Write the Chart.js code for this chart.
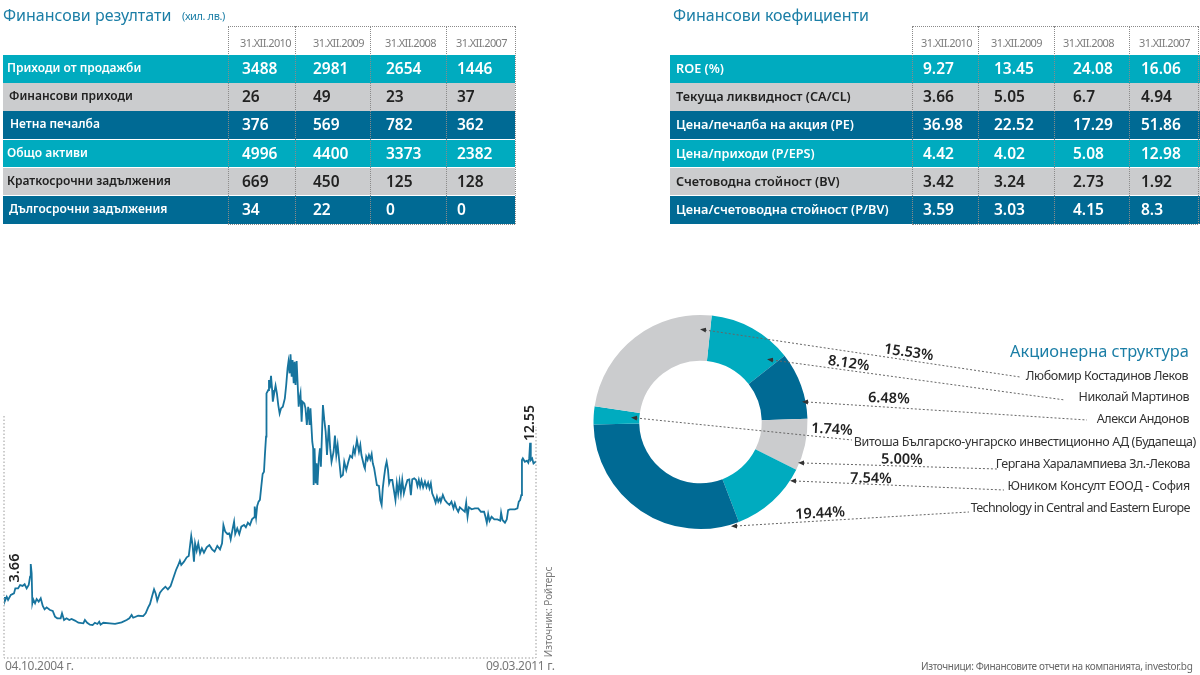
<!DOCTYPE html>
<html lang="bg">
<head>
<meta charset="utf-8">
<title>Финансови резултати</title>
<script src="https://cdn.jsdelivr.net/npm/chart.js@4"></script>
<style>
html, body { margin: 0; padding: 0; background: #fff; }
#page { position: relative; width: 1200px; height: 675px; overflow: hidden; font-family: "Noto Sans", sans-serif; color: #222; }
#page canvas { position: absolute; }
.t { position: absolute; white-space: nowrap; line-height: 1; }
.title { font-size: 16px; color: #1b7ea6; }
.row { position: absolute; }
.vline { position: absolute; border-left: 1px dotted #8a8a8a; }
.hline { position: absolute; border-top: 1px dotted #8a8a8a; }
svg { position: absolute; left: 0; top: 0; }
</style>
</head>
<body>
<div id="page">
  <canvas id="priceChart" style="left:0;top:330px" width="560" height="335"></canvas>
  <canvas id="holdersChart" style="left:590px;top:312px" width="221" height="220"></canvas>
  <svg id="leaders" width="1200" height="675"></svg>
</div>
<script>
// table data
const periods = ['31.XII.2010', '31.XII.2009', '31.XII.2008', '31.XII.2007'];
const resultLabels = ['Приходи от продажби', 'Финансови приходи', 'Нетна печалба', 'Общо активи', 'Краткосрочни задължения', 'Дългосрочни задължения'];
const resultValues = [
    ['3488', '2981', '2654', '1446'],
    ['26', '49', '23', '37'],
    ['376', '569', '782', '362'],
    ['4996', '4400', '3373', '2382'],
    ['669', '450', '125', '128'],
    ['34', '22', '0', '0']
];
const ratioLabels = ['ROE (%)', 'Текуща ликвидност (CA/CL)', 'Цена/печалба на акция (PE)', 'Цена/приходи (P/EPS)', 'Счетоводна стойност (BV)', 'Цена/счетоводна стойност (P/BV)'];
const ratioValues = [
    ['9.27', '13.45', '24.08', '16.06'],
    ['3.66', '5.05', '6.7', '4.94'],
    ['36.98', '22.52', '17.29', '51.86'],
    ['4.42', '4.02', '5.08', '12.98'],
    ['3.42', '3.24', '2.73', '1.92'],
    ['3.59', '3.03', '4.15', '8.3']
];

// price line, days counted from 04.10.2004
const priceDates = ['04.10.2004 г.', '09.03.2011 г.'];
const days = [0,3,12,18,30,44,50,62,71,82,91,100,109,115,118,122,125,129,137,144,153,162,171,179,188,203,215,225,235,250,256,265,276,288,298,313,328,350,357,367,379,391,401,412,420,426,438,467,490,519,541,553,563,570,592,614,625,636,644,
    653,662,669,676,688,700,712,723,735,744,750,759,769,776,782,794,806,815,821,826,832,838,843,850,857,865,873,882,894,906,918,929,941,953,962,968,976,985,994,1000,1009,1015,1020,1029,1038,1047,1059,1067,1076,1085,1094,1103,1106,1112,1117,1123,1129,1135,1141,1147,1151,1156,
    1158,1166,1169,1173,1178,1183,1186,1192,1198,1204,1210,1216,1222,1230,1239,1245,1251,1255,1260,1264,1269,1273,1278,1282,1286,1291,1295,1300,1304,1308,1313,1317,1325,1330,1336,1342,1348,1352,1360,1364,1366,1370,1375,1379,1383,1389,1394,1398,1407,1413,1419,1425,1433,1439,1445,1454,1460,1466,1472,1480,1486,1495,1501,1510,1519,1527,1536,1542,1548,1557,1566,1572,1577,1589,
    1592,1598,1604,1610,1616,1622,1627,1633,1639,1645,1654,1660,1666,1671,1677,1683,1688,1694,1699,1704,1713,1720,1727,1733,1739,1745,1751,1757,1764,1771,1780,1788,1795,1801,1810,1818,1824,1830,1836,1842,1849,1857,1864,1871,1877,1883,1889,1898,1904,1910,1916,1923,1927,1936,1945,1954,1965,1974,1983,1989,
    1996,2004,2011,2021,2033,2039,2045,2051,2063,2077,2092,2104,2118,2124,2130,2136,2142,2151,2163,2177,2189,2193,2199,2210,2218,2224,2232,2254,2265,2271,2277,2282,2285,2289,2298,2307,2313,2317,2321,2324,2330,2336,2345,2347];
const prices = [3.66,3.36,3.68,3.47,3.80,3.90,4.23,4.23,4.45,4.39,4.50,4.23,4.45,5.00,5.83,5.22,3.25,3.51,3.25,3.53,3.36,3.58,3.07,2.85,2.98,2.81,2.74,2.37,2.26,2.26,2.59,2.15,2.26,2.15,2.22,2.11,1.97,1.93,2.15,1.97,1.84,1.82,1.97,1.89,2.04,1.84,1.97,1.93,1.89,1.99,2.15,2.26,2.48,2.30,2.43,2.41,2.59,2.98,3.20,
    3.69,4.17,3.90,3.42,3.95,4.17,4.34,4.17,4.39,4.78,5.04,5.44,5.77,6.05,5.77,5.99,6.27,6.36,7.08,7.68,7.08,5.99,7.19,6.71,7.19,6.54,6.86,6.58,6.93,7.08,6.80,6.65,7.02,6.80,7.19,8.40,7.96,7.81,7.85,7.46,8.18,8.62,7.81,8.18,7.81,8.29,8.40,8.25,8.55,8.40,8.77,8.90,9.61,8.90,9.65,9.94,10.05,10.92,11.76,11.91,13.01,14.21,
    17.06,17.28,17.94,17.39,18.22,17.28,16.51,17.06,17.57,17.06,16.29,15.74,16.07,16.18,16.73,17.61,18.70,19.14,18.38,19.63,18.16,19.25,17.72,19.14,17.61,19.19,17.83,16.18,16.73,17.06,15.20,16.51,16.40,16.07,14.98,16.18,14.98,16.07,13.88,13.44,11.03,13.44,11.14,12.46,11.03,12.78,13.44,12.24,16.29,15.31,14.54,13.00,14.98,13.44,12.56,13.22,14.28,13.00,13.66,12.46,11.58,11.69,12.56,12.02,12.56,12.96,12.83,13.44,13.11,13.99,13.22,13.66,13.00,12.24,
    12.13,12.90,12.68,13.00,12.72,13.07,12.46,12.13,11.58,11.03,10.97,10.04,9.72,10.81,11.58,12.24,12.57,12.02,11.14,11.36,11.36,10.70,10.04,11.14,10.48,11.25,10.48,11.36,10.48,10.92,11.36,11.40,10.37,11.40,11.47,11.36,10.97,11.36,10.92,11.32,10.88,11.25,10.88,11.18,10.81,11.14,10.48,10.15,9.87,10.26,9.93,10.15,9.93,10.37,10.04,9.87,9.72,9.93,9.50,9.83,
    9.49,9.27,9.56,9.43,9.27,9.87,8.94,9.56,9.43,9.49,9.49,9.27,9.27,8.94,8.55,9.12,8.68,8.94,8.77,8.77,8.68,9.21,8.73,8.55,8.77,9.38,9.43,9.43,9.49,9.93,10.04,10.37,12.67,12.78,12.56,12.63,12.50,12.78,13.81,12.67,12.78,12.45,12.56,12.55];

// shareholders, in ring order clockwise
const holderNames = ['Николай Мартинов', 'Алекси Андонов', 'Гергана Харалампиева Зл.-Лекова', 'Юником Консулт ЕООД - София', 'Technology in Central  and Eastern Europe', 'Витоша Българско-унгарско инвестиционно АД (Будапеща)', 'Любомир Костадинов Леков'];
const holderShares = [8.12, 6.48, 5.00, 7.54, 19.44, 1.74, 15.53];

const TEAL = '#00abbf', GREY = '#cbccce', NAVY = '#006a94', INK = '#1b7ea6';
const rowFills = [TEAL, GREY, NAVY, TEAL, GREY, NAVY];
const holderFills = [TEAL, NAVY, GREY, TEAL, NAVY, TEAL, GREY];

const page = document.getElementById('page');

function addText(text, x, y, style) {
    const el = document.createElement('div');
    el.className = 't';
    el.textContent = text;
    el.style.left = x + 'px';
    el.style.top = y + 'px';
    Object.assign(el.style, style || {});
    page.appendChild(el);
    return el;
}
function addTitle(text, x, y) {
    const el = addText(text, x, y);
    el.classList.add('title');
    return el;
}

const rowTops = [55, 83, 111, 139.5, 167.5, 196];
const ROW_H = 27.5;

function buildTable(cfg) {
    rowTops.forEach((top, i) => {
        const row = document.createElement('div');
        row.className = 'row';
        row.style.cssText = `left:${cfg.left}px;top:${top}px;width:${cfg.right - cfg.left}px;height:${ROW_H}px;background:${rowFills[i]}`;
        page.appendChild(row);
        const color = rowFills[i] === GREY ? '#222' : '#fff';
        addText(cfg.labels[i], cfg.labelX[i], top + 7, { fontSize: cfg.labelSize + 'px', fontWeight: 600, color });
        cfg.values[i].forEach((v, j) => {
            addText(v, cfg.valueX[j], top + 6, { fontSize: '15.5px', fontWeight: 600, color });
        });
    });
    periods.forEach((p, j) => addText(p, cfg.dateX[j], 37, { fontSize: '11px', color: '#7d7d7d', letterSpacing: '-0.6px' }));
    cfg.gridX.forEach(x => {
        const v = document.createElement('div');
        v.className = 'vline';
        v.style.cssText = `left:${x}px;top:26px;height:198px`;
        page.appendChild(v);
    });
    const top = document.createElement('div');
    top.className = 'hline';
    top.style.cssText = `left:${cfg.gridX[0]}px;top:26px;width:${cfg.gridX[4] - cfg.gridX[0]}px`;
    page.appendChild(top);
    const bottom = top.cloneNode();
    bottom.style.top = '224px';
    page.appendChild(bottom);
}

buildTable({
    left: 3, right: 515, labels: resultLabels, values: resultValues, labelSize: 12,
    labelX: [7, 9, 10, 7, 7, 9],
    valueX: [242, 313, 386, 457],
    dateX: [240, 313, 385, 456],
    gridX: [228, 295, 370, 446, 515]
});
buildTable({
    left: 670, right: 1200, labels: ratioLabels, values: ratioValues, labelSize: 12.7,
    labelX: [676, 676, 676, 676, 676, 676],
    valueX: [923, 994, 1073, 1141],
    dateX: [921, 991, 1063, 1139],
    gridX: [912, 978, 1054, 1129, 1198]
});

addTitle('Финансови резултати', 3, 7);
addText('(хил. лв.)', 182, 10, { fontSize: '11px', color: '#1b7ea6', letterSpacing: '-0.4px' });
addTitle('Финансови коефициенти', 673, 7);

// dotted frame of the price chart, tops given as prices
const frameTops = [15.57, 14.85];
const priceFrame = {
    id: 'priceFrame',
    afterDatasetsDraw(chart) {
        const { ctx, scales: { x, y } } = chart;
        const base = y.getPixelForValue(y.min), left = x.getPixelForValue(x.min), right = x.getPixelForValue(x.max);
        ctx.save();
        ctx.strokeStyle = '#9a9a9a';
        ctx.lineWidth = 1;
        ctx.setLineDash([1.5, 2]);
        ctx.beginPath();
        ctx.moveTo(left, y.getPixelForValue(frameTops[0]));
        ctx.lineTo(left, base);
        ctx.lineTo(right, base);
        ctx.lineTo(right, y.getPixelForValue(frameTops[1]));
        ctx.stroke();
        ctx.restore();
    }
};

new Chart(document.getElementById('priceChart'), {
    type: 'line',
    data: {
        datasets: [{
            data: days.map((d, i) => ({ x: d, y: prices[i] })),
            borderColor: '#17749e',
            borderWidth: 1.8,
            pointRadius: 0,
            tension: 0
        }]
    },
    options: {
        responsive: false,
        animation: false,
        layout: { padding: { left: 4, right: 24, top: 10, bottom: 7 } },
        scales: {
            x: { type: 'linear', display: false, min: 0, max: 2347 },
            y: { display: false, min: -0.35, max: 20.57 }
        },
        plugins: { legend: { display: false }, tooltip: { enabled: false } }
    },
    plugins: [priceFrame]
});

new Chart(document.getElementById('holdersChart'), {
    type: 'doughnut',
    data: {
        labels: holderNames,
        datasets: [{ data: holderShares, backgroundColor: holderFills, borderWidth: 0 }]
    },
    options: {
        responsive: false,
        animation: false,
        rotation: 6,
        radius: 107,
        cutout: 63,
        plugins: { legend: { display: false }, tooltip: { enabled: false } }
    }
});

function rotated(text, cx, cy, deg, size, weight, color) {
    const el = addText(text, cx, cy, { fontSize: size + 'px', fontWeight: weight, color, transform: `translate(-50%,-50%) rotate(${deg}deg)` });
    return el;
}

// price chart annotations
addText(priceDates[0], 5, 660, { fontSize: '12px', color: '#777', letterSpacing: '-0.3px' });
addText(priceDates[1], 486, 660, { fontSize: '12px', color: '#777', letterSpacing: '-0.3px' });
rotated(prices[0].toFixed(2), 13, 568, -90, 14.5, 600, '#222');
rotated(prices[prices.length - 1].toFixed(2), 529, 423, -90, 14, 600, '#222');
rotated('Източник: Ройтерс', 548, 612, -90, 10, 400, '#777');

// shareholder labels and leaders, same order as holderNames
addText('Акционерна структура', 1010, 343, { fontSize: '16.4px', color: INK });
const nameRight = [11, 11, 10, 10, 10, 4, 12];
const nameTop = [391, 413, 458, 480, 502, 436, 370];
const nameSpacing = [-0.45, -0.45, -0.45, -0.3, -0.65, -0.35, -0.45];
const pctPos = [[849, 362, 8], [889, 397, 2], [902, 458, 1], [871, 477, 1], [820, 512, -3], [832, 428, 3], [909, 351, 8]];
const leaderEnds = [[772, 360, 1065, 400], [807, 402, 1087, 420], [803, 463, 997, 469], [795, 481, 1004, 490], [736, 526, 969, 512], [636, 418, 852, 440], [705, 330, 1020, 377]];

holderNames.forEach((name, i) => {
    const el = addText(name, 0, nameTop[i], { fontSize: '12.5px', color: '#333', letterSpacing: nameSpacing[i] + 'px' });
    el.style.left = 'auto';
    el.style.right = nameRight[i] + 'px';
    const p = pctPos[i];
    rotated(holderShares[i].toFixed(2) + '%', p[0], p[1], p[2], 14.5, 600, '#222');
});

const NS = 'http://www.w3.org/2000/svg';
const svg = document.getElementById('leaders');
svg.innerHTML = '<defs><marker id="tip" markerUnits="userSpaceOnUse" markerWidth="7" markerHeight="6" refX="1" refY="3" orient="auto-start-reverse"><path d="M0,0.5 L6,3 L0,5.5 Z" fill="#333"/></marker></defs>';
leaderEnds.forEach(e => {
    const line = document.createElementNS(NS, 'line');
    line.setAttribute('x1', e[0]);
    line.setAttribute('y1', e[1]);
    line.setAttribute('x2', e[2]);
    line.setAttribute('y2', e[3]);
    line.setAttribute('stroke', '#666');
    line.setAttribute('stroke-width', '1');
    line.setAttribute('stroke-dasharray', '2 2');
    line.setAttribute('marker-start', 'url(#tip)');
    svg.appendChild(line);
});

addText('Източници: Финансовите отчети на компанията, investor.bg', 921, 661, { fontSize: '10px', color: '#666', letterSpacing: '-0.35px' });
</script>
</body>
</html>
